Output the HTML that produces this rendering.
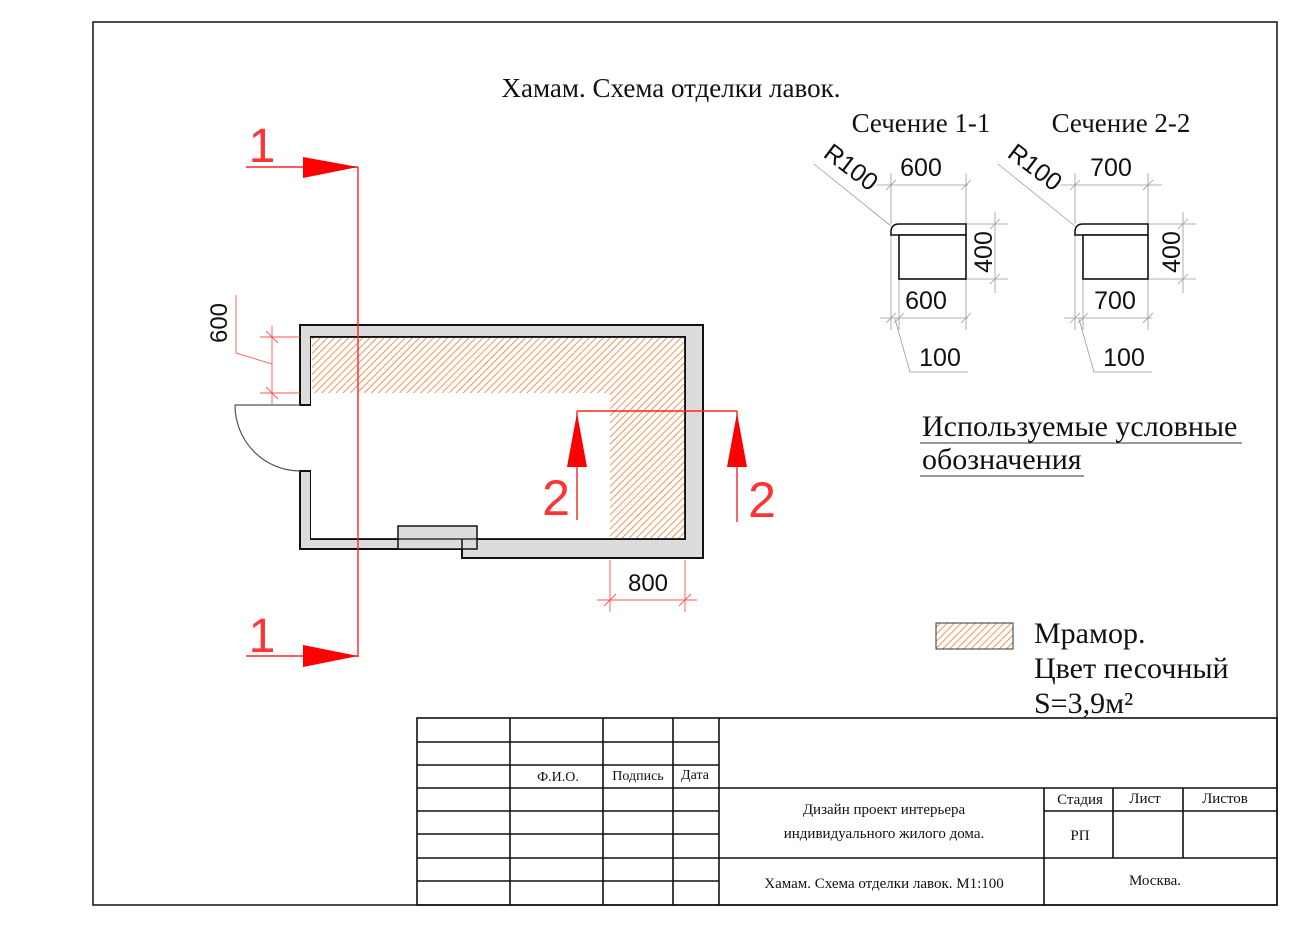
<!DOCTYPE html>
<html><head><meta charset="utf-8"><style>
html,body{margin:0;padding:0;background:#fff;}
svg{display:block}
.s{font-family:"Liberation Serif",serif;fill:#111}
.a{font-family:"Liberation Sans",sans-serif;fill:#111}
</style></head><body>
<svg width="1300" height="928" viewBox="0 0 1300 928" xmlns="http://www.w3.org/2000/svg">
<defs>
<pattern id="h" patternUnits="userSpaceOnUse" width="5" height="5" patternTransform="rotate(45)">
<rect width="5" height="5" fill="#fff"/>
<line x1="0" y1="0" x2="0" y2="5" stroke="#f07a30" stroke-width="1.6"/>
</pattern>
</defs>
<rect width="1300" height="928" fill="#fff"/>
<rect x="93" y="22" width="1184" height="883" fill="none" stroke="#111" stroke-width="1.5"/>

<text x="671" y="97" class="s" font-size="27" text-anchor="middle">Хамам. Схема отделки лавок.</text>

<path d="M300,325 H703 V558 H462 V549 H300 V471 H311 V539 H685 V337 H311 V405 H300 Z" fill="#dcdcdc" stroke="#111" stroke-width="2"/>
<rect x="311" y="337" width="374" height="202" fill="#fff"/>
<path d="M311,337 H685 V539 H311" fill="none" stroke="#111" stroke-width="1.8"/>
<path d="M312,338 H684 V538 H610 V393 H312 Z" fill="url(#h)"/>
<rect x="398" y="526" width="79" height="23" fill="#dcdcdc" stroke="#111" stroke-width="1.5"/>
<line x1="398" y1="539" x2="477" y2="539" stroke="#111" stroke-width="1.2"/>
<line x1="462" y1="539" x2="462" y2="558" stroke="#111" stroke-width="1.5"/>
<line x1="235" y1="405" x2="300" y2="405" stroke="#555" stroke-width="1.2"/>
<path d="M235,405 A65,66 0 0 0 300,471" fill="none" stroke="#555" stroke-width="1.2"/>

<g stroke="#f55" stroke-width="0.9">
<line x1="260" y1="337" x2="300" y2="337"/><line x1="260" y1="393" x2="300" y2="393"/>
<line x1="272" y1="326" x2="272" y2="405"/>
<line x1="266" y1="331" x2="278" y2="343"/><line x1="266" y1="387" x2="278" y2="399"/>
<polyline points="272,364 236,353 236,295" fill="none"/>
</g>
<text transform="translate(227,323) rotate(-90)" class="a" font-size="24" text-anchor="middle">600</text>

<g stroke="#f55" stroke-width="0.9">
<line x1="610" y1="560" x2="610" y2="612"/><line x1="685" y1="560" x2="685" y2="612"/>
<line x1="597" y1="600" x2="697" y2="600"/>
<line x1="604" y1="606" x2="616" y2="594"/><line x1="679" y1="606" x2="691" y2="594"/>
</g>
<text x="648" y="591" class="a" font-size="24" text-anchor="middle">800</text>

<g stroke="#f22" stroke-width="1.4" fill="none">
<line x1="358" y1="167" x2="358" y2="657"/>
<line x1="246" y1="167" x2="358" y2="167"/>
<line x1="246" y1="656" x2="358" y2="656"/>
<line x1="577" y1="411" x2="737" y2="411"/>
<line x1="577" y1="411" x2="577" y2="520"/>
<line x1="737" y1="411" x2="737" y2="522"/>
</g>
<polygon points="303,157 358,167 303,178" fill="#f00"/>
<polygon points="303,645 358,656 303,667" fill="#f00"/>
<polygon points="577,413 567,467 587,467" fill="#f00"/>
<polygon points="737,413 727,467 747,467" fill="#f00"/>
<text x="262" y="162" font-family="Liberation Sans,sans-serif" font-size="48" fill="#f33" text-anchor="middle">1</text>
<text x="262" y="652" font-family="Liberation Sans,sans-serif" font-size="48" fill="#f33" text-anchor="middle">1</text>
<text x="556" y="515" font-family="Liberation Sans,sans-serif" font-size="50" fill="#f33" text-anchor="middle">2</text>
<text x="762" y="517" font-family="Liberation Sans,sans-serif" font-size="50" fill="#f33" text-anchor="middle">2</text>

<text x="921" y="132" class="s" font-size="27" text-anchor="middle">Сечение 1-1</text>
<text x="1121" y="132" class="s" font-size="27" text-anchor="middle">Сечение 2-2</text>

<g>
<g stroke="#999" stroke-width="0.8" fill="none">
<line x1="891" y1="173" x2="891" y2="224"/><line x1="966" y1="173" x2="966" y2="224"/>
<line x1="876" y1="185" x2="968" y2="185"/>
<line x1="886" y1="190" x2="896" y2="180"/><line x1="961" y1="190" x2="971" y2="180"/>
<line x1="966" y1="224" x2="1008" y2="224"/><line x1="966" y1="279" x2="1008" y2="279"/>
<line x1="995" y1="212" x2="995" y2="293"/>
<line x1="990" y1="229" x2="1000" y2="219"/><line x1="990" y1="284" x2="1000" y2="274"/>
<line x1="891" y1="235" x2="891" y2="330"/><line x1="899" y1="279" x2="899" y2="330"/><line x1="966" y1="279" x2="966" y2="330"/>
<line x1="880" y1="318" x2="968" y2="318"/>
<line x1="886" y1="323" x2="896" y2="313"/><line x1="894" y1="323" x2="904" y2="313"/><line x1="961" y1="323" x2="971" y2="313"/>
<polyline points="895,319 910,372 968,372"/>
<line x1="814" y1="164" x2="891" y2="226"/>
</g>
<path d="M899,224 H966 V235 H891 V232 Q891,224 899,224 Z" fill="#fff" stroke="#111" stroke-width="1.6"/>
<rect x="899" y="235" width="67" height="44" fill="#fff" stroke="#111" stroke-width="1.6"/>
<text x="921" y="176" class="a" font-size="25" text-anchor="middle">600</text>
<text x="926" y="309" class="a" font-size="25" text-anchor="middle">600</text>
<text x="940" y="366" class="a" font-size="25" text-anchor="middle">100</text>
<text transform="translate(992,252) rotate(-90)" class="a" font-size="25" text-anchor="middle">400</text>
<text transform="translate(846,174) rotate(37)" class="a" font-size="25" text-anchor="middle">R100</text>
</g>

<g transform="translate(184,0)">
<g stroke="#999" stroke-width="0.8" fill="none">
<line x1="891" y1="173" x2="891" y2="224"/><line x1="964" y1="173" x2="964" y2="224"/>
<line x1="876" y1="185" x2="978" y2="185"/>
<line x1="886" y1="190" x2="896" y2="180"/><line x1="959" y1="190" x2="969" y2="180"/>
<line x1="964" y1="224" x2="1012" y2="224"/><line x1="964" y1="279" x2="1012" y2="279"/>
<line x1="999" y1="212" x2="999" y2="293"/>
<line x1="994" y1="229" x2="1004" y2="219"/><line x1="994" y1="284" x2="1004" y2="274"/>
<line x1="891" y1="235" x2="891" y2="330"/><line x1="899" y1="279" x2="899" y2="330"/><line x1="964" y1="279" x2="964" y2="330"/>
<line x1="880" y1="318" x2="968" y2="318"/>
<line x1="886" y1="323" x2="896" y2="313"/><line x1="894" y1="323" x2="904" y2="313"/><line x1="959" y1="323" x2="969" y2="313"/>
<polyline points="895,319 910,372 968,372"/>
<line x1="814" y1="164" x2="891" y2="226"/>
</g>
<path d="M899,224 H964 V235 H891 V232 Q891,224 899,224 Z" fill="#fff" stroke="#111" stroke-width="1.6"/>
<rect x="899" y="235" width="65" height="44" fill="#fff" stroke="#111" stroke-width="1.6"/>
<text x="927" y="176" class="a" font-size="25" text-anchor="middle">700</text>
<text x="931" y="309" class="a" font-size="25" text-anchor="middle">700</text>
<text x="940" y="366" class="a" font-size="25" text-anchor="middle">100</text>
<text transform="translate(996,252) rotate(-90)" class="a" font-size="25" text-anchor="middle">400</text>
<text transform="translate(846,174) rotate(37)" class="a" font-size="25" text-anchor="middle">R100</text>
</g>

<text x="922" y="436" class="s" font-size="30">Используемые условные</text>
<line x1="920" y1="443" x2="1242" y2="443" stroke="#333" stroke-width="1"/>
<text x="922" y="469" class="s" font-size="30">обозначения</text>
<line x1="920" y1="476" x2="1084" y2="476" stroke="#333" stroke-width="1"/>
<rect x="936" y="623" width="77" height="26" fill="url(#h)" stroke="#333" stroke-width="1"/>
<text x="1034" y="643" class="s" font-size="30">Мрамор.</text>
<text x="1034" y="678" class="s" font-size="30">Цвет песочный</text>
<text x="1034" y="713" class="s" font-size="30">S=3,9м²</text>

<g stroke="#111" stroke-width="1.6" fill="none">
<rect x="417" y="718" width="860" height="187"/>
<line x1="417" y1="742" x2="719" y2="742"/>
<line x1="417" y1="765" x2="719" y2="765"/>
<line x1="417" y1="788" x2="1277" y2="788"/>
<line x1="417" y1="811" x2="719" y2="811"/>
<line x1="1044" y1="811" x2="1277" y2="811"/>
<line x1="417" y1="834" x2="719" y2="834"/>
<line x1="417" y1="858" x2="1277" y2="858"/>
<line x1="417" y1="881" x2="719" y2="881"/>
<line x1="510" y1="718" x2="510" y2="905"/>
<line x1="603" y1="718" x2="603" y2="905"/>
<line x1="673" y1="718" x2="673" y2="905"/>
<line x1="719" y1="718" x2="719" y2="905"/>
<line x1="1044" y1="788" x2="1044" y2="905"/>
<line x1="1113" y1="788" x2="1113" y2="858"/>
<line x1="1183" y1="788" x2="1183" y2="858"/>
</g>
<g class="s" font-size="15" text-anchor="middle">
<text x="558" y="781" font-size="14">Ф.И.О.</text>
<text x="638" y="780" font-size="14">Подпись</text>
<text x="695" y="779" font-size="14">Дата</text>
<text x="884" y="814">Дизайн проект интерьера</text>
<text x="884" y="838">индивидуального жилого дома.</text>
<text x="1080" y="804">Стадия</text>
<text x="1145" y="803">Лист</text>
<text x="1225" y="803">Листов</text>
<text x="1080" y="840">РП</text>
<text x="884" y="888">Хамам. Схема отделки лавок. М1:100</text>
<text x="1155" y="885">Москва.</text>
</g>
</svg>
</body></html>
